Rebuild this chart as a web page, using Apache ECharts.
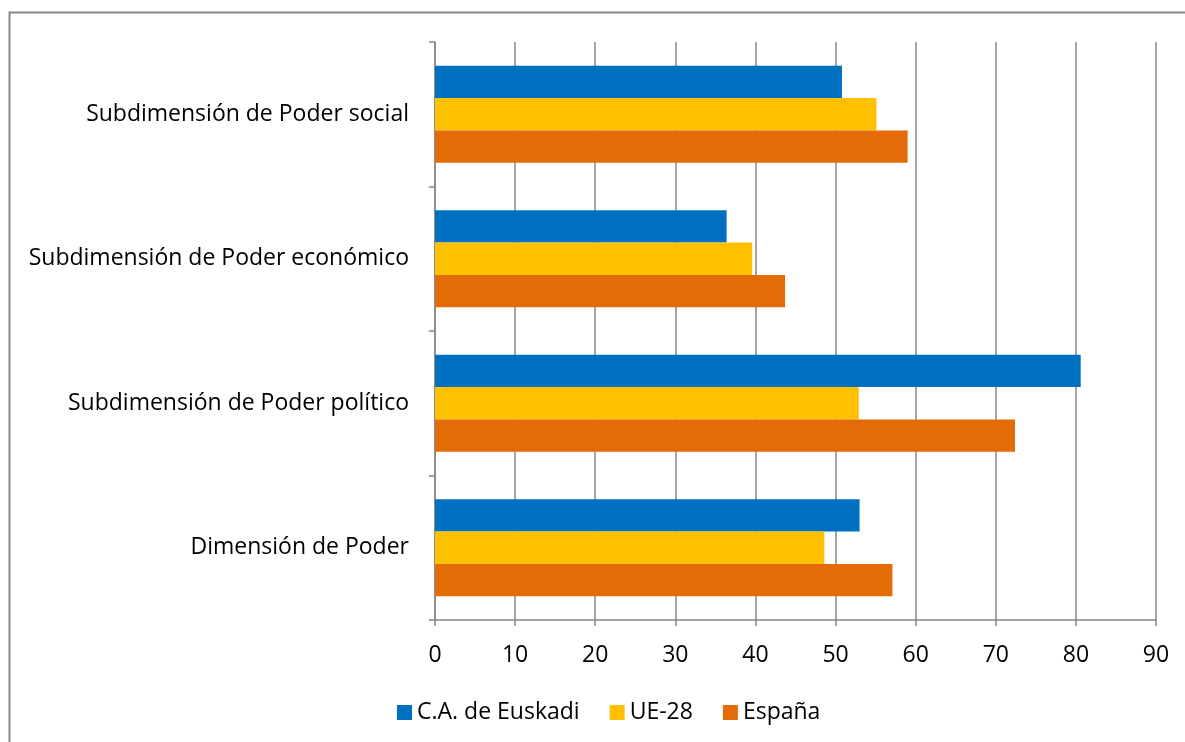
<!DOCTYPE html>
<html>
<head>
<meta charset="utf-8">
<script src="https://cdn.jsdelivr.net/npm/echarts@6/dist/echarts.min.js"></script>
<style>html,body{margin:0;padding:0;background:#fff;}#c{width:1185px;height:742px;}</style>
</head>
<body>
<div id="c"></div>
<script>
const categories = ['Subdimensión de Poder social', 'Subdimensión de Poder económico', 'Subdimensión de Poder político', 'Dimensión de Poder'];
const seriesNames = ['C.A. de Euskadi', 'UE-28', 'España'];
const euskadi = [50.8, 36.4, 80.6, 53.0];
const ue28 = [55.1, 39.6, 52.9, 48.6];
const espana = [59.0, 43.7, 72.4, 57.1];
const colors = ['#0070C0', '#FFC000', '#E36C09'];

const chart = echarts.init(document.getElementById('c'));
const font = '"Open Sans", "Liberation Sans", sans-serif';
const mk = (name, data, i) => ({
  name, type: 'bar', data, barGap: '0%', barCategoryGap: '33%',
  itemStyle: { color: colors[i] }
});
chart.setOption({
  animation: false,
  textStyle: { fontFamily: font },
  graphic: [{
    type: 'polyline', shape: { points: [[9.5, 800], [9.5, 12.5], [1300, 12.5]] },
    style: { fill: 'none', stroke: '#888', lineWidth: 2 }
  }],
  grid: { left: 435, right: 29, top: 42, bottom: 122 },
  xAxis: {
    type: 'value', min: 0, max: 90, interval: 10,
    axisLine: { show: true, lineStyle: { color: '#888', width: 1.5 } },
    axisTick: { show: true, length: 6, lineStyle: { color: '#888', width: 1.5 } },
    splitLine: { show: true, lineStyle: { color: '#888', width: 1.5 } },
    axisLabel: { color: '#000', fontSize: 23, margin: 24, fontFamily: font }
  },
  yAxis: {
    type: 'category', data: categories, inverse: true,
    axisLine: { show: true, lineStyle: { color: '#888', width: 1.5 } },
    axisTick: { show: true, length: 6, lineStyle: { color: '#888', width: 1.5 } },
    axisLabel: { color: '#000', fontSize: 23, margin: 26, fontFamily: font }
  },
  legend: {
    bottom: 13, left: 392, itemWidth: 15, itemHeight: 15, itemGap: 30,
    icon: 'rect', textStyle: { color: '#000', fontSize: 23, fontFamily: font },
    data: seriesNames
  },
  series: [mk(seriesNames[0], euskadi, 0), mk(seriesNames[1], ue28, 1), mk(seriesNames[2], espana, 2)]
});
</script>
</body>
</html>
